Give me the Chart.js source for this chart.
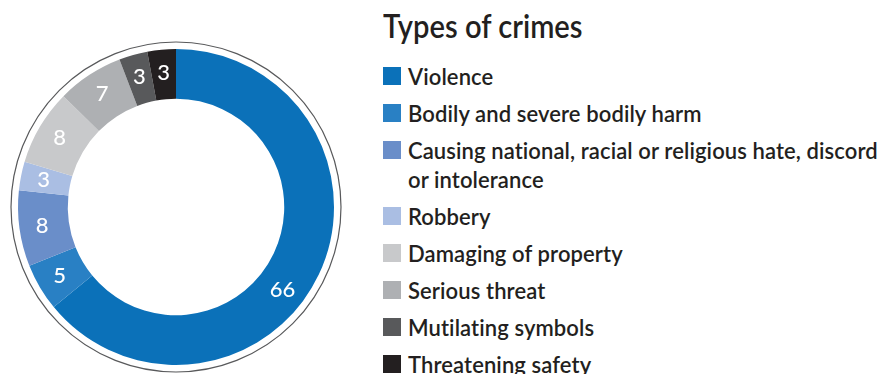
<!DOCTYPE html>
<html>
<head>
<meta charset="utf-8">
<script src="https://cdn.jsdelivr.net/npm/chart.js@4.4.1/dist/chart.umd.min.js"></script>
<style>
  html, body { margin: 0; padding: 0; background: #fff; overflow: hidden; }
  body { width: 883px; height: 374px; position: relative; font-family: Lato, "Noto Sans", sans-serif; color: #231f20; }
  #chartBox { position: absolute; left: 0; top: 0; width: 352px; height: 414px; }
  #title { position: absolute; left: 383px; top: 6px; font-size: 32px; font-weight: 600; line-height: 40px; white-space: nowrap; transform-origin: left top; transform: scaleX(0.91); }
  #legend { position: absolute; left: 383px; top: 62px; margin: 0; padding: 0; list-style: none; }
  #legend li { position: relative; padding-left: 25px; font-size: 22px; font-weight: 600; letter-spacing: 0.1px; line-height: 29px; margin-bottom: 8px; white-space: nowrap; }
  #legend li span.box { position: absolute; left: 0; top: 5px; width: 18px; height: 18px; }
</style>
</head>
<body>
<div id="chartBox"><canvas id="crimesChart"></canvas></div>
<div id="title">Types of crimes</div>
<ul id="legend"></ul>
<script>
// Données
const categories = [
  "Violence",
  "Bodily and severe bodily harm",
  ["Causing national, racial or religious hate, discord", "or intolerance"],
  "Robbery",
  "Damaging of property",
  "Serious threat",
  "Mutilating symbols",
  "Threatening safety",
];
const values = [66, 5, 8, 3, 8, 7, 3, 3];
const colors = [
  "#0b71b9",
  "#2980c4",
  "#6a8ec9",
  "#aabee3",
  "#c8c9cb",
  "#aeb0b3",
  "#58595b",
  "#231f20",
];

// Thin ring around the doughnut
const outerRing = {
  id: "outerRing",
  afterDraw(chart) {
    const arc = chart.getDatasetMeta(0).data[0];
    if (!arc) return;
    const ctx = chart.ctx;
    ctx.save();
    ctx.beginPath();
    ctx.arc(arc.x, arc.y, arc.outerRadius + 7, 0, Math.PI * 2);
    ctx.strokeStyle = "#58595b";
    ctx.lineWidth = 1.2;
    ctx.stroke();
    ctx.restore();
  },
};

// Values written inside each slice
const sliceLabels = {
  id: "sliceLabels",
  afterDatasetsDraw(chart) {
    const ctx = chart.ctx;
    const meta = chart.getDatasetMeta(0);
    const data = chart.data.datasets[0].data;
    const maxVal = Math.max(...data);
    ctx.save();
    ctx.fillStyle = "#fff";
    ctx.font = "500 22px Lato, 'Noto Sans', sans-serif";
    ctx.textAlign = "center";
    ctx.textBaseline = "middle";
    meta.data.forEach((arc, i) => {
      // the big slice gets its label a bit further along
      const frac = data[i] === maxVal ? 0.555 : 0.5;
      const a = arc.startAngle + (arc.endAngle - arc.startAngle) * frac;
      const r = (arc.innerRadius + arc.outerRadius) / 2 + 2;
      ctx.fillText(String(data[i]), arc.x + Math.cos(a) * r, arc.y + Math.sin(a) * r);
    });
    ctx.restore();
  },
};

const ctx = document.getElementById("crimesChart").getContext("2d");
const crimesChart = new Chart(ctx, {
  type: "doughnut",
  data: {
    labels: categories,
    datasets: [
      {
        data: values,
        backgroundColor: colors,
        borderWidth: 0,
      },
    ],
  },
  options: {
    responsive: true,
    maintainAspectRatio: false,
    animation: false,
    cutout: "68.5%",
    layout: { padding: { top: 49, left: 18, right: 18, bottom: 49 } },
    plugins: {
      legend: { display: false },
      tooltip: { enabled: false },
    },
  },
  plugins: [outerRing, sliceLabels],
});

// Legend on the right
const legend = document.getElementById("legend");
categories.forEach((label, i) => {
  const li = document.createElement("li");
  const box = document.createElement("span");
  box.className = "box";
  box.style.background = colors[i];
  li.appendChild(box);
  const lines = Array.isArray(label) ? label : [label];
  lines.forEach((line, j) => {
    if (j > 0) li.appendChild(document.createElement("br"));
    li.appendChild(document.createTextNode(line));
  });
  legend.appendChild(li);
});
</script>
</body>
</html>
